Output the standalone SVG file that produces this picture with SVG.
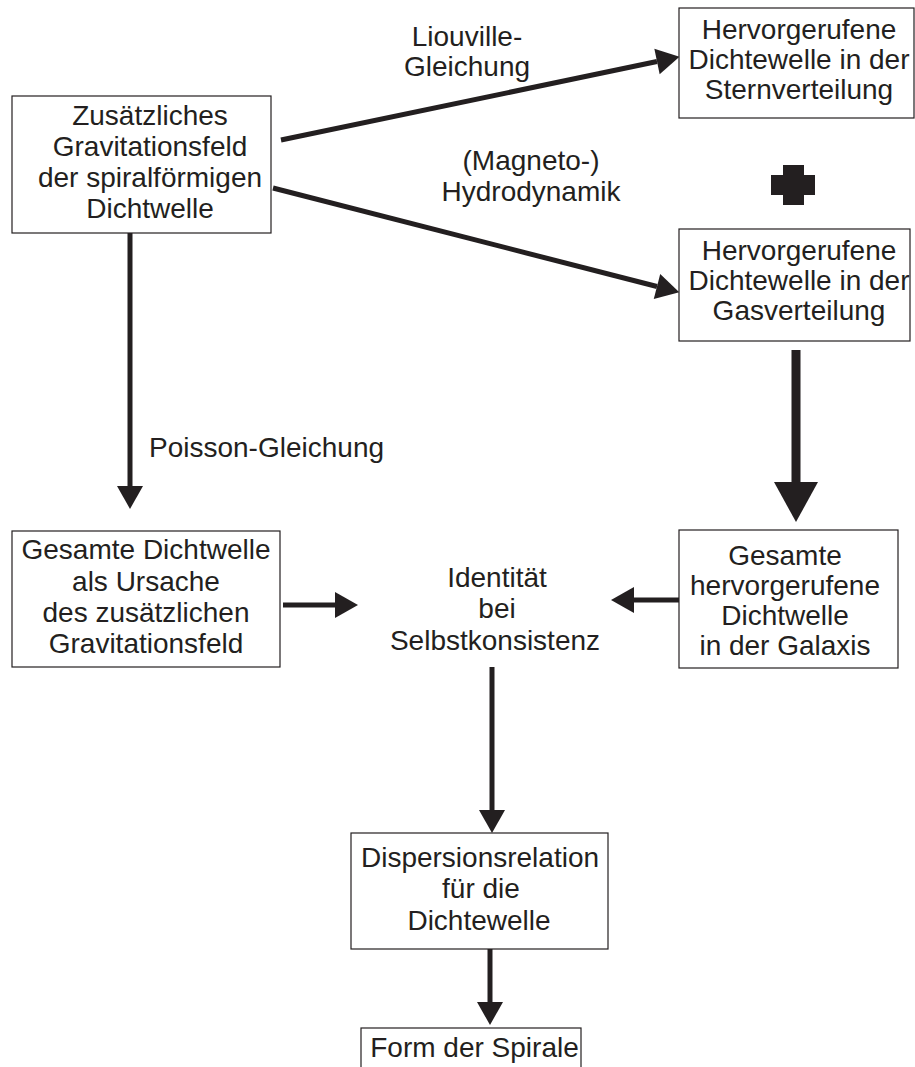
<svg xmlns="http://www.w3.org/2000/svg" width="915" height="1067" viewBox="0 0 915 1067">
<style>
.box{fill:#fff;stroke:#231f20;stroke-width:1.2}
.t{font-family:"Liberation Sans",Arial,sans-serif;font-size:28px;fill:#231f20;text-anchor:middle}
.c{stroke:#231f20;stroke-width:5;fill:none;marker-end:url(#ah)}
.cb{stroke:#231f20;stroke-width:9;fill:none;marker-end:url(#ahb)}
</style>
<defs>
<marker id="ah" markerUnits="userSpaceOnUse" markerWidth="24" markerHeight="26" refX="0" refY="13" orient="auto" overflow="visible">
<path d="M0,0 L23,13 L0,26 Z" fill="#231f20"/>
</marker>
<marker id="ahb" markerUnits="userSpaceOnUse" markerWidth="40" markerHeight="44" refX="0" refY="22" orient="auto" overflow="visible">
<path d="M0,0 L40,22 L0,44 Z" fill="#231f20"/>
</marker>
</defs>
<rect width="915" height="1067" fill="#fff"/>
<g id="connectors">
<line class="c" x1="281" y1="140" x2="657" y2="61.5"/>
<line class="c" x1="273" y1="188" x2="657" y2="286.5"/>
<line class="c" x1="130" y1="233" x2="130" y2="486"/>
<line class="cb" x1="796" y1="350" x2="796" y2="482"/>
<line class="c" x1="283" y1="605" x2="335" y2="605"/>
<line class="c" x1="679" y1="600" x2="634" y2="600"/>
<line class="c" x1="492" y1="667" x2="492" y2="810"/>
<line class="c" x1="490" y1="949" x2="490" y2="1002"/>
</g>
<g id="label-liouville">
<text class="t" x="467" y="46">Liouville-</text>
<text class="t" x="467" y="76">Gleichung</text>
</g>
<g id="label-mhd">
<text class="t" x="531" y="170">(Magneto-)</text>
<text class="t" x="531" y="201">Hydrodynamik</text>
</g>
<g id="label-poisson">
<text class="t" x="149" y="457" style="text-anchor:start">Poisson-Gleichung</text>
</g>
<g id="node-feld">
<rect class="box" x="12" y="96" width="259" height="137"/>
<text class="t" x="150" y="125">Zusätzliches</text>
<text class="t" x="150" y="156">Gravitationsfeld</text>
<text class="t" x="150" y="187">der spiralförmigen</text>
<text class="t" x="150" y="218">Dichtwelle</text>
</g>
<g id="node-stern">
<rect class="box" x="679" y="8" width="235" height="110"/>
<text class="t" x="799" y="39">Hervorgerufene</text>
<text class="t" x="799" y="69">Dichtewelle in der</text>
<text class="t" x="799" y="99">Sternverteilung</text>
</g>
<g id="plus">
<path d="M783,165 H804 V175 H815 V195 H804 V205 H783 V195 H771 V175 H783 Z" fill="#231f20"/>
</g>
<g id="node-gas">
<rect class="box" x="679" y="229" width="231" height="112"/>
<text class="t" x="799" y="260">Hervorgerufene</text>
<text class="t" x="799" y="290">Dichtewelle in der</text>
<text class="t" x="799" y="320">Gasverteilung</text>
</g>
<g id="node-gesamt">
<rect class="box" x="12" y="531" width="268" height="136"/>
<text class="t" x="146" y="559">Gesamte Dichtwelle</text>
<text class="t" x="146" y="591">als Ursache</text>
<text class="t" x="146" y="622">des zusätzlichen</text>
<text class="t" x="146" y="653">Gravitationsfeld</text>
</g>
<g id="node-identitaet">
<text class="t" x="497" y="587">Identität</text>
<text class="t" x="497" y="618">bei</text>
<text class="t" x="495" y="650">Selbstkonsistenz</text>
</g>
<g id="node-galaxis">
<rect class="box" x="679" y="530" width="219" height="138"/>
<text class="t" x="785" y="565">Gesamte</text>
<text class="t" x="785" y="595">hervorgerufene</text>
<text class="t" x="785" y="625">Dichtwelle</text>
<text class="t" x="785" y="655">in der Galaxis</text>
</g>
<g id="node-dispersion">
<rect class="box" x="351" y="833" width="257" height="116"/>
<text class="t" x="480" y="867">Dispersionsrelation</text>
<text class="t" x="481" y="898">für die</text>
<text class="t" x="479" y="930">Dichtewelle</text>
</g>
<g id="node-form">
<rect class="box" x="361" y="1028" width="220" height="60"/>
<text class="t" x="474.5" y="1057">Form der Spirale</text>
</g>
</svg>
